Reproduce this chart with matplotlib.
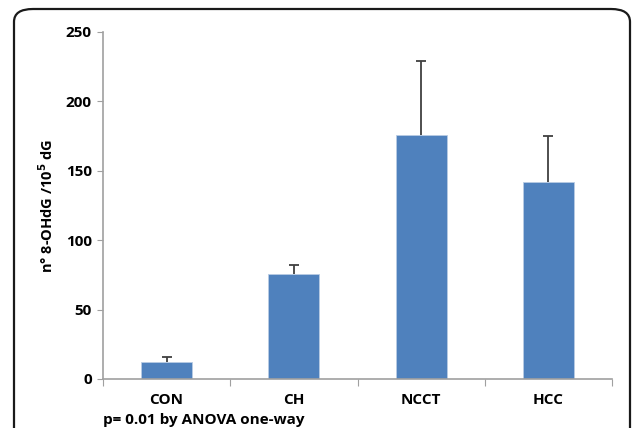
import matplotlib
matplotlib.use('Agg')
import matplotlib.pyplot as plt
import numpy as np
from matplotlib.patches import FancyBboxPatch

plt.rcParams['font.family'] = ['Open Sans', 'DejaVu Sans']

# data
groups = ['CON', 'CH', 'NCCT', 'HCC']
means = [12.5, 75.6, 175.8, 141.7]
sds = [3.3, 6.7, 53.0, 33.5]
note = 'p= 0.01 by ANOVA one-way'

fig = plt.figure(figsize=(6.33, 4.28), dpi=100)

# rounded frame around the chart
frame = FancyBboxPatch((14/633, -0.1), (630-14)/633, 1.1 - 9/428,
                       boxstyle='round,pad=0,rounding_size=0.03',
                       transform=fig.transFigure, fill=False,
                       edgecolor='#1a1a1a', linewidth=1.6)
fig.patches.append(frame)

ax = fig.add_axes([103/633, 1-379/428, (612-103)/633, (379-32)/428])
pos = np.arange(len(groups)) + 0.5
ax.bar(pos, means, width=0.4, color='#4F81BD', edgecolor='#b8cce4', linewidth=0.6, zorder=2)
eb = ax.errorbar(pos, means, yerr=[np.zeros(len(sds)), sds], fmt='none',
                 ecolor='#404040', elinewidth=1.3, capsize=3.5, capthick=1.3, zorder=3)
eb[1][0].set_visible(False)  # only the upper cap

ax.set_xlim(0, len(groups))
ax.set_ylim(0, 250)
ax.set_yticks([0, 50, 100, 150, 200, 250])
ax.set_xticks(np.arange(len(groups) + 1))
ax.set_xticklabels([])
ax.set_xticks(pos, minor=True)
ax.set_xticklabels(groups, minor=True, fontweight='bold', fontsize=11)
ax.tick_params(axis='x', which='minor', length=0, pad=10)
ax.tick_params(axis='x', which='major', length=5, color='#a0a0a0', direction='out')
ax.tick_params(axis='y', length=4, color='#a0a0a0', labelsize=11, pad=4)
for lbl in ax.get_yticklabels():
    lbl.set_fontweight('bold')

for s in ['top', 'right']:
    ax.spines[s].set_visible(False)
for s in ['left', 'bottom']:
    ax.spines[s].set_color('#a0a0a0')
    ax.spines[s].set_linewidth(1.2)

ax.set_ylabel(r'n° 8-OHdG /10$^{\mathbf{5}}$ dG', fontweight='bold', fontsize=10.5, labelpad=7)

fig.text(103/633, 1-420/428, note, fontweight='bold', fontsize=11, va='center', ha='left')

fig.savefig('out.png', dpi=100)
